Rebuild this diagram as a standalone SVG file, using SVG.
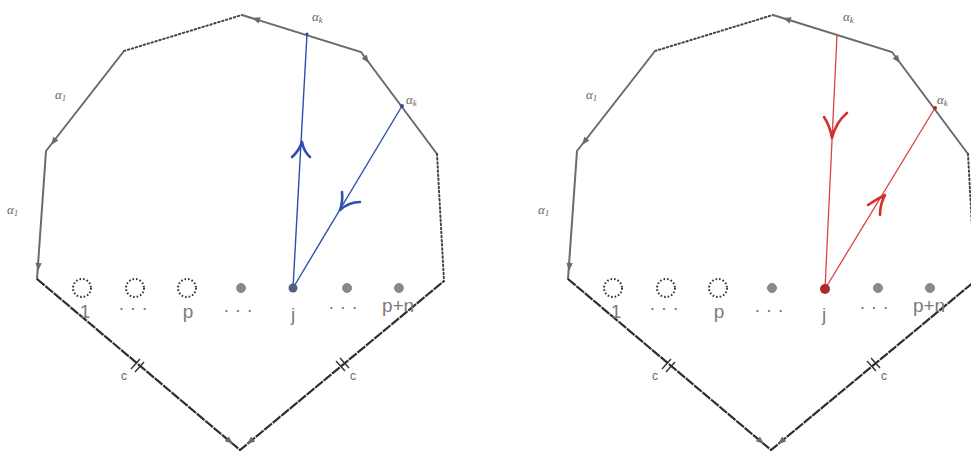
<svg xmlns="http://www.w3.org/2000/svg" xmlns:xlink="http://www.w3.org/1999/xlink" width="971" height="451" viewBox="0 0 971 451">
<style>
.edge{fill:none;stroke:#6b6b6b;stroke-width:2;stroke-linecap:round}
.dot{fill:none;stroke:#444;stroke-width:2;stroke-dasharray:1.5 2.6;stroke-linecap:round}
.base{fill:none;stroke:#2e2e2e;stroke-width:2.2;stroke-dasharray:10 1}
.tick{stroke:#333;stroke-width:1.4}
.ah{fill:#6b6b6b}
.greek{font-family:"Liberation Serif",serif;font-style:italic;font-size:13px;fill:#666}
.sub{font-size:9px}
.hand{font-family:"Liberation Sans",sans-serif;font-size:19px;fill:#7a7a7a}
.small{font-family:"Liberation Sans",sans-serif;font-size:12px;fill:#666}
.hole{fill:none;stroke:#333;stroke-width:2;stroke-dasharray:1.6 2}
.pt{fill:#8a8a8a;stroke:#777;stroke-width:0.8}
.blue{fill:none;stroke:#2f4fb0;stroke-width:1.4}
.bluearr{fill:none;stroke:#2f4fb0;stroke-width:2.6;stroke-linecap:round;stroke-linejoin:round}
.red{fill:none;stroke:#de4040;stroke-width:1.3}
.redarr{fill:none;stroke:#d42e2e;stroke-width:2.6;stroke-linecap:round;stroke-linejoin:round}
</style>
<defs>
<path id="ah" class="ah" d="M0,0 L-8,-3.2 L-8,3.2 Z"/>
<g id="frame">
<path class="dot" d="M124,51 L242,15"/>
<path class="edge" d="M242,15 L361,52 L437,154"/>
<path class="edge" d="M124,51 L46,151 L37,279"/>
<path class="dot" d="M437,154 L444,281"/>
<path class="base" d="M37,279 L240,450 L444,281"/>
<use xlink:href="#ah" transform="translate(252,18) rotate(197.4)"/>
<use xlink:href="#ah" transform="translate(369,63) rotate(53)"/>
<use xlink:href="#ah" transform="translate(51,145) rotate(127.3)"/>
<use xlink:href="#ah" transform="translate(38,271) rotate(94.5)"/>
<use xlink:href="#ah" transform="translate(233,444) rotate(39.9)"/>
<use xlink:href="#ah" transform="translate(247,444) rotate(140.7)"/>
<path class="tick" d="M131,369 L140,359 M135,372 L144,362"/>
<path class="tick" d="M336,361 L345,371 M340,358 L349,368"/>
<text class="greek" x="312" y="21">α<tspan class="sub" dy="2">k</tspan></text>
<text class="greek" x="406" y="104">α<tspan class="sub" dy="2">k</tspan></text>
<text class="greek" x="55" y="99">α<tspan class="sub" dy="2">1</tspan></text>
<text class="greek" x="7" y="214">α<tspan class="sub" dy="2">1</tspan></text>
<text class="small" x="121" y="380">c</text>
<text class="small" x="350" y="380">c</text>
<circle class="hole" cx="82" cy="288" r="9"/>
<circle class="hole" cx="135" cy="288" r="9"/>
<circle class="hole" cx="187" cy="288" r="9"/>
<circle class="pt" cx="241" cy="288" r="4.5"/>
<circle class="pt" cx="347" cy="288" r="4.5"/>
<circle class="pt" cx="399" cy="288" r="4.5" fill="#aaa"/>
<text class="hand" x="85" y="318" text-anchor="middle">1</text>
<text class="hand" x="133" y="314" text-anchor="middle">· · ·</text>
<text class="hand" x="188" y="318" text-anchor="middle">p</text>
<text class="hand" x="238" y="316" text-anchor="middle">· · ·</text>
<text class="hand" x="293" y="321" text-anchor="middle">j</text>
<text class="hand" x="343" y="313" text-anchor="middle">· · ·</text>
<text class="hand" x="398" y="312" text-anchor="middle">p+n</text>
</g>
</defs>
<g id="left-diagram">
<use xlink:href="#frame"/>
<g id="connectors-left">
<path class="blue" d="M293,288 L307,34"/>
<path class="blue" d="M293,288 L402,106"/>
<path class="bluearr" d="M292,157 Q299,151 302,142 Q304,152 310,157"/>
<path class="bluearr" d="M342,192 Q343,202 340,210 Q349,202 360,202"/>
<circle cx="307" cy="34" r="1.6" fill="#2f4fb0"/>
<circle cx="402" cy="106" r="2" fill="#334a9a"/>
</g>
<g id="node-j-left"><circle cx="293" cy="288" r="4.5" fill="#55607e"/></g>
</g>
<g id="right-diagram">
<use xlink:href="#frame" transform="translate(531,0)"/>
<g id="connectors-right">
<path class="red" d="M825,289 L837,35"/>
<path class="red" d="M825,289 L935,108"/>
<path class="redarr" d="M824,117 Q830,126 832,138 Q836,122 847,113"/>
<path class="redarr" d="M868,205 Q877,199 885,195 Q880,204 880,215"/>
<circle cx="935" cy="108" r="2" fill="#a03030"/>
</g>
<g id="node-j-right"><circle cx="825" cy="289" r="5" fill="#a82c2c"/></g>
</g>
</svg>
